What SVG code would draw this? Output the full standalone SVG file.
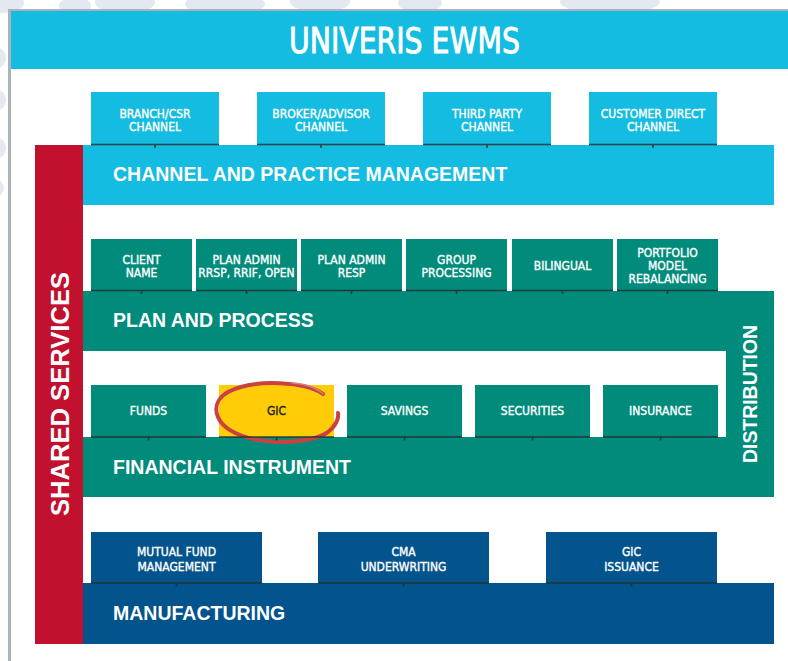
<svg xmlns="http://www.w3.org/2000/svg" width="788" height="661" viewBox="0 0 788 661">
<defs>
<style>
.cyan{fill:#13BCE0}
.teal{fill:#008B7B}
.red{fill:#C2112F}
.navy{fill:#03538C}
.gold{fill:#FFCC07}
.lbl{font-family:"DejaVu Sans Condensed","DejaVu Sans","Liberation Sans",sans-serif;font-size:12px;fill:#FFFFFF;stroke:#FFFFFF;stroke-width:0.35px;text-anchor:middle}
.bar{font-family:"Liberation Sans",Arial,sans-serif;font-weight:bold;font-size:19.5px;fill:#FFFFFF}
.conn{stroke:#22302f;stroke-width:1.6;fill:none;stroke-opacity:0.9}
.wm{fill:#E3E8F1}
</style>
</defs>
<rect width="788" height="661" fill="#FFFFFF"/>
<g id="watermark">
<ellipse class="wm" cx="2" cy="3" rx="22" ry="10"/>
<ellipse class="wm" cx="75" cy="6" rx="16" ry="9"/>
<ellipse class="wm" cx="125" cy="2" rx="30" ry="12"/>
<ellipse class="wm" cx="225" cy="4" rx="40" ry="12"/>
<ellipse class="wm" cx="320" cy="2" rx="30" ry="10"/>
<ellipse class="wm" cx="420" cy="3" rx="22" ry="9"/>
<ellipse class="wm" cx="610" cy="2" rx="50" ry="12"/>
<circle class="wm" cx="-5" cy="58" r="11"/>
<circle class="wm" cx="-5" cy="100" r="11"/>
<circle class="wm" cx="-5" cy="148" r="11"/>
<circle class="wm" cx="-5" cy="188" r="9"/>
</g>
<g id="page">
<rect x="8" y="9" width="790" height="660" fill="#FFFFFF"/>
<rect x="8" y="9" width="3" height="652" fill="#A9B3BC"/>
<rect x="8" y="9" width="780" height="2" fill="#A9B3BC"/>
</g>
<g id="title">
<rect class="cyan" x="11" y="11" width="777" height="58"/>
<text x="289" y="53" font-family="DejaVu Sans Condensed,DejaVu Sans,Liberation Sans,sans-serif" font-size="36" fill="#FFFFFF" stroke="#FFFFFF" stroke-width="0.9" textLength="231" lengthAdjust="spacingAndGlyphs">UNIVERIS EWMS</text>
</g>
<g id="shared-services">
<rect class="red" x="35" y="145" width="48" height="499"/>
<text transform="translate(69,394) rotate(-90)" text-anchor="middle" font-family="Liberation Sans,Arial,sans-serif" font-weight="bold" font-size="26" fill="#FFFFFF" textLength="244" lengthAdjust="spacingAndGlyphs">SHARED SERVICES</text>
</g>
<g id="channel-practice-management">
<rect class="cyan" x="83" y="145" width="691" height="60"/>
<text class="bar" x="113" y="181">CHANNEL AND PRACTICE MANAGEMENT</text>
</g>
<g id="plan-and-process">
<rect class="teal" x="83" y="291" width="691" height="60"/>
<text class="bar" x="113" y="327">PLAN AND PROCESS</text>
</g>
<g id="financial-instrument">
<rect class="teal" x="83" y="437" width="691" height="60"/>
<text class="bar" x="113" y="474">FINANCIAL INSTRUMENT</text>
</g>
<g id="distribution">
<rect class="teal" x="726" y="291" width="48" height="206"/>
<text transform="translate(757,394) rotate(-90)" text-anchor="middle" font-family="Liberation Sans,Arial,sans-serif" font-weight="bold" font-size="20" fill="#FFFFFF" textLength="138" lengthAdjust="spacingAndGlyphs">DISTRIBUTION</text>
</g>
<g id="manufacturing">
<rect class="navy" x="83" y="583" width="691" height="61"/>
<text class="bar" x="113" y="620">MANUFACTURING</text>
</g>
<g id="branch-csr-channel"><rect class="cyan" x="91" y="92" width="128" height="52"/><text class="lbl" x="155" y="118">BRANCH/CSR</text><text class="lbl" x="155" y="131">CHANNEL</text></g>
<g id="broker-advisor-channel"><rect class="cyan" x="257" y="92" width="128" height="52"/><text class="lbl" x="321" y="118">BROKER/ADVISOR</text><text class="lbl" x="321" y="131">CHANNEL</text></g>
<g id="third-party-channel"><rect class="cyan" x="423" y="92" width="128" height="52"/><text class="lbl" x="487" y="118">THIRD PARTY</text><text class="lbl" x="487" y="131">CHANNEL</text></g>
<g id="customer-direct-channel"><rect class="cyan" x="589" y="92" width="128" height="52"/><text class="lbl" x="653" y="118">CUSTOMER DIRECT</text><text class="lbl" x="653" y="131">CHANNEL</text></g>
<g id="client-name"><rect class="teal" x="91" y="239" width="101" height="52"/><text class="lbl" x="141.5" y="264">CLIENT</text><text class="lbl" x="141.5" y="277">NAME</text></g>
<g id="plan-admin-rrsp"><rect class="teal" x="196" y="239" width="101" height="52"/><text class="lbl" x="246.5" y="264">PLAN ADMIN</text><text class="lbl" x="246.5" y="277" font-size="11.5">RRSP, RRIF, OPEN</text></g>
<g id="plan-admin-resp"><rect class="teal" x="301" y="239" width="101" height="52"/><text class="lbl" x="351.5" y="264">PLAN ADMIN</text><text class="lbl" x="351.5" y="277">RESP</text></g>
<g id="group-processing"><rect class="teal" x="406" y="239" width="101" height="52"/><text class="lbl" x="456.5" y="264">GROUP</text><text class="lbl" x="456.5" y="277">PROCESSING</text></g>
<g id="bilingual"><rect class="teal" x="512" y="239" width="101" height="52"/><text class="lbl" x="562.5" y="270">BILINGUAL</text></g>
<g id="portfolio-model-rebalancing"><rect class="teal" x="617" y="239" width="101" height="52"/><text class="lbl" x="667.5" y="257">PORTFOLIO</text><text class="lbl" x="667.5" y="270">MODEL</text><text class="lbl" x="667.5" y="283">REBALANCING</text></g>
<g id="funds"><rect class="teal" x="91" y="385" width="115" height="52"/><text class="lbl" x="148.5" y="415">FUNDS</text></g>
<g id="gic"><rect class="gold" x="219" y="385" width="115" height="52"/><text class="lbl" x="276.5" y="415" style="fill:#222222;stroke:#222222">GIC</text>
<path d="M323 394 C308 382 255 378 228 392 C210 402 212 424 240 435 C268 446 312 443 328 432 C336 426 339 418 338 413" fill="none" stroke="#C9423F" stroke-width="4" stroke-linecap="round"/>
<path d="M292 383 C305 384 316 387 323 394" fill="none" stroke="#D9807C" stroke-width="1.5" stroke-linecap="round"/>
</g>
<g id="savings"><rect class="teal" x="347" y="385" width="115" height="52"/><text class="lbl" x="404.5" y="415">SAVINGS</text></g>
<g id="securities"><rect class="teal" x="475" y="385" width="115" height="52"/><text class="lbl" x="532.5" y="415">SECURITIES</text></g>
<g id="insurance"><rect class="teal" x="603" y="385" width="115" height="52"/><text class="lbl" x="660.5" y="415">INSURANCE</text></g>
<g id="mutual-fund-management"><rect class="navy" x="91" y="532" width="171" height="51"/><text class="lbl" x="176.5" y="556">MUTUAL FUND</text><text class="lbl" x="176.5" y="571">MANAGEMENT</text></g>
<g id="cma-underwriting"><rect class="navy" x="318" y="532" width="171" height="51"/><text class="lbl" x="403.5" y="556">CMA</text><text class="lbl" x="403.5" y="571">UNDERWRITING</text></g>
<g id="gic-issuance"><rect class="navy" x="546" y="532" width="171" height="51"/><text class="lbl" x="631.5" y="556">GIC</text><text class="lbl" x="631.5" y="571">ISSUANCE</text></g>
<g id="connectors">
<path class="conn" d="M91 144.5H219M155 144.5V148 M257 144.5H385M321 144.5V148 M423 144.5H551M487 144.5V148 M589 144.5H717M653 144.5V148"/>
<path class="conn" d="M91 290.5H192M141.5 290.5V294 M196 290.5H297M246.5 290.5V294 M301 290.5H402M351.5 290.5V294 M406 290.5H507M456.5 290.5V294 M512 290.5H613M562.5 290.5V294 M617 290.5H718M667.5 290.5V294"/>
<path class="conn" d="M91 437H206M148.5 437V440.5 M219 437H334M276.5 437V440.5 M347 437H462M404.5 437V440.5 M475 437H590M532.5 437V440.5 M603 437H718M660.5 437V440.5"/>
<path class="conn" d="M91 583H262M176.5 583V586.5 M318 583H489M403.5 583V586.5 M546 583H717M631.5 583V586.5"/>
</g>
</svg>
